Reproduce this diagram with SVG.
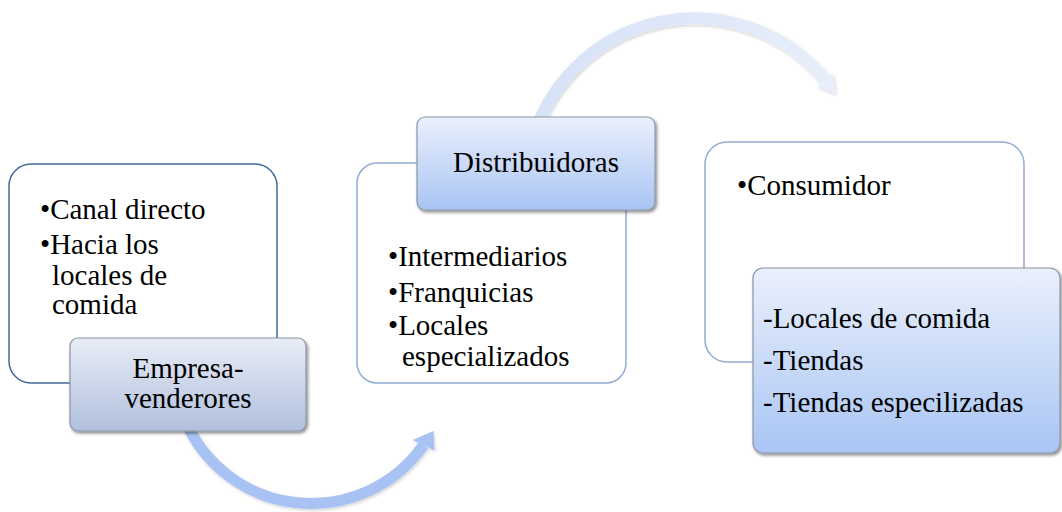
<svg xmlns="http://www.w3.org/2000/svg" width="1062" height="512" viewBox="0 0 1062 512">
<style>
.c{text-anchor:middle}
.card{fill:#fff;stroke-width:1.5}
.lbl{stroke:#8b95a6;stroke-width:1.2}
</style>
<defs>
<linearGradient id="gGray" x1="0" y1="0" x2="0" y2="1"><stop offset="0" stop-color="#e8ecf6"/><stop offset="1" stop-color="#b1c0dd"/></linearGradient>
<linearGradient id="gBlue" x1="0" y1="0" x2="0" y2="1"><stop offset="0" stop-color="#eaf0fc"/><stop offset="1" stop-color="#a9c5f4"/></linearGradient>
<linearGradient id="gTop" x1="530" y1="0" x2="840" y2="0" gradientUnits="userSpaceOnUse"><stop offset="0" stop-color="#d6e2f7"/><stop offset="1" stop-color="#e8eefa"/></linearGradient>
<filter id="sh" x="-10%" y="-10%" width="125%" height="130%"><feDropShadow dx="1.5" dy="2" stdDeviation="1.5" flood-color="#000" flood-opacity="0.45"/></filter>
<filter id="ash" x="-10%" y="-10%" width="125%" height="130%"><feDropShadow dx="1" dy="1.5" stdDeviation="1.5" flood-color="#000" flood-opacity="0.18"/></filter>
</defs>
<g id="connectors">
<g filter="url(#ash)">
<path d="M185,420 A137,137 0 0 0 423.5,445" fill="none" stroke="#a8c3f3" stroke-width="11"/>
<polygon points="433.5,431 412.5,440 434.5,450.5" fill="#a8c3f3"/>
</g>
<g filter="url(#ash)">
<path d="M530,150 A169,169 0 0 1 825,79.5" fill="none" stroke="url(#gTop)" stroke-width="12"/>
<polygon points="835.5,94 833,73 817,86" fill="#e8eefa"/>
</g>
</g>
<g font-family="Liberation Serif, Times New Roman, serif" font-size="29" fill="#000">
<g id="node-empresa">
<rect class="card" x="9" y="164" width="268" height="219" rx="22" stroke="#41699b"/>
<text x="40" y="219">•Canal directo</text>
<text x="40" y="254">•Hacia los</text>
<text x="52" y="285">locales de</text>
<text x="52" y="314">comida</text>
<rect class="lbl" x="70" y="338" width="236" height="93" rx="8" fill="url(#gGray)" filter="url(#sh)"/>
<text class="c" x="188" y="378">Empresa-</text>
<text class="c" x="188" y="408">venderores</text>
</g>
<g id="node-distribuidoras">
<rect class="card" x="357" y="163" width="269" height="220" rx="20" stroke="#93acd6"/>
<text x="388" y="266">•Intermediarios</text>
<text x="388" y="302">•Franquicias</text>
<text x="388" y="335">•Locales</text>
<text x="402" y="366">especializados</text>
<rect class="lbl" x="417" y="117" width="238" height="93" rx="8" fill="url(#gBlue)" filter="url(#sh)"/>
<text class="c" x="536" y="172">Distribuidoras</text>
</g>
<g id="node-consumidor">
<rect class="card" x="705" y="142" width="319" height="220" rx="22" stroke="#93acd6"/>
<text x="737" y="195">•Consumidor</text>
<rect class="lbl" x="753" y="268" width="307" height="185" rx="10" fill="url(#gBlue)" filter="url(#sh)"/>
<text x="763" y="328">-Locales de comida</text>
<text x="763" y="370">-Tiendas</text>
<text x="763" y="412">-Tiendas especilizadas</text>
</g>
</g>
</svg>
